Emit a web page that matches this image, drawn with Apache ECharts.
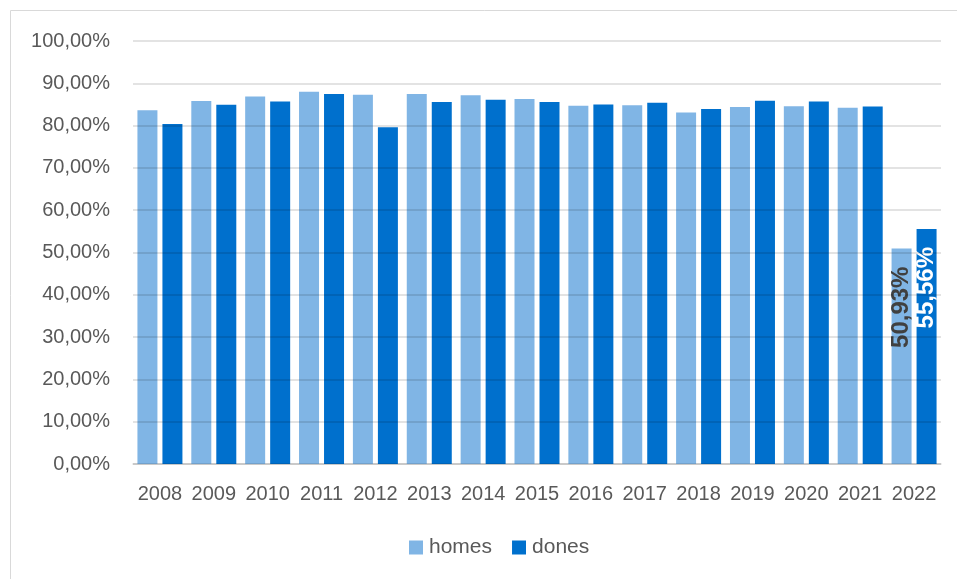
<!DOCTYPE html>
<html>
<head>
<meta charset="utf-8">
<title>homes / dones</title>
<script src="https://cdn.jsdelivr.net/npm/echarts@6/dist/echarts.min.js"></script>
<style>
  html, body { margin: 0; padding: 0; background: #fff; }
  #echart { width: 957px; height: 579px; }
</style>
</head>
<body>
<div id="echart"></div>
<script>
// data
const years = ['2008', '2009', '2010', '2011', '2012', '2013', '2014', '2015',
  '2016', '2017', '2018', '2019', '2020', '2021', '2022']
const homes = [83.6, 85.8, 86.9, 88.0, 87.3, 87.5, 87.2, 86.3, 84.7, 84.8, 83.1, 84.4, 84.6, 84.2, 50.93]
const dones = [80.4, 84.9, 85.7, 87.5, 79.6, 85.6, 86.1, 85.6, 85.0, 85.4, 83.9, 85.9, 85.7, 84.5, 55.56]
// only the last year has a label
const labelledIndex = 14

const fontFamily = '"Liberation Sans", Arial, sans-serif'
const textColor = '#595959'

function pct(v) {
  return v.toFixed(2).replace('.', ',') + '%'
}

function withLabel(values, color) {
  return values.map((v, i) => {
    if (i !== labelledIndex) return v
    return {
      value: v,
      label: {
        show: true,
        position: 'insideTop',
        distance: 18,
        rotate: 90,
        align: 'right',
        verticalAlign: 'middle',
        fontFamily: fontFamily,
        fontSize: 24,
        fontWeight: 'bold',
        color: color,
        formatter: (p) => pct(p.value)
      }
    }
  })
}

const chart = echarts.init(document.getElementById('echart'))
chart.setOption({
  animation: false,
  textStyle: { fontFamily: fontFamily },
  graphic: [{
    // outer frame of the chart area
    type: 'rect',
    shape: { x: 10.5, y: 10.5, width: 1000, height: 1000 },
    style: { fill: 'none', stroke: '#d9d9d9', lineWidth: 1 },
    silent: true
  }],
  grid: {
    left: 133,
    right: 16,
    top: 41,
    bottom: 115
  },
  legend: {
    data: ['homes', 'dones'],
    bottom: 16,
    left: 404,
    icon: 'rect',
    itemWidth: 14,
    itemHeight: 14,
    itemGap: 20,
    textStyle: { fontSize: 21, color: textColor, padding: [0, 0, 0, 1] }
  },
  xAxis: {
    type: 'category',
    data: years,
    axisTick: { show: false },
    axisLine: { lineStyle: { color: '#d9d9d9', width: 1.5 } },
    axisLabel: { fontSize: 20, color: textColor, margin: 20, interval: 0 }
  },
  yAxis: {
    type: 'value',
    min: 0,
    max: 100,
    interval: 10,
    z: 3,
    axisLine: { show: false },
    axisTick: { show: false },
    splitLine: { lineStyle: { color: 'rgba(0,0,0,0.15)', width: 1.5 } },
    axisLabel: { fontSize: 20, color: textColor, margin: 23, formatter: pct }
  },
  series: [
    {
      name: 'homes',
      type: 'bar',
      barWidth: 20,
      barGap: '25%',
      itemStyle: { color: '#80b5e5' },
      data: withLabel(homes, '#404040')
    },
    {
      name: 'dones',
      type: 'bar',
      barWidth: 20,
      itemStyle: { color: '#0070cd' },
      data: withLabel(dones, '#ffffff')
    }
  ]
})
</script>
</body>
</html>
